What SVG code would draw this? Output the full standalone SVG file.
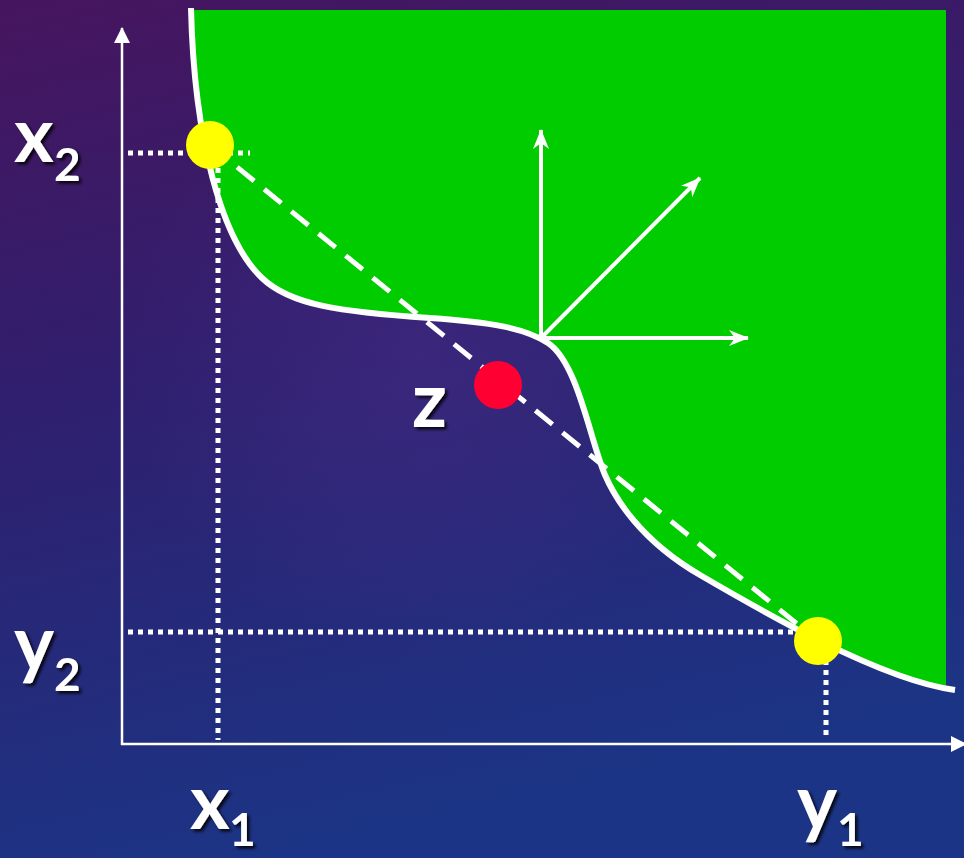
<svg xmlns="http://www.w3.org/2000/svg" width="964" height="858" viewBox="0 0 964 858">
<defs>
<linearGradient id="bg" x1="0" y1="0" x2="0.25" y2="1">
<stop offset="0" stop-color="#47155f"/>
<stop offset="0.45" stop-color="#2f1f6e"/>
<stop offset="1" stop-color="#1c3485"/>
</linearGradient>
<radialGradient id="glow" cx="420" cy="360" r="300" gradientUnits="userSpaceOnUse">
<stop offset="0" stop-color="#4a2e8a" stop-opacity="0.45"/>
<stop offset="1" stop-color="#4a2e8a" stop-opacity="0"/>
</radialGradient>
<clipPath id="gclip"><rect x="0" y="10" width="946" height="848"/></clipPath>
<marker id="stealth" viewBox="0 0 20 16" refX="19" refY="8" markerWidth="20" markerHeight="16" markerUnits="userSpaceOnUse" orient="auto">
<path d="M0,0 L20,8 L0,16 L6,8 Z" fill="#fff"/>
</marker>
<marker id="tri" viewBox="0 0 16 16" refX="15" refY="8" markerWidth="16" markerHeight="16" markerUnits="userSpaceOnUse" orient="auto">
<path d="M0,0 L16,8 L0,16 Z" fill="#fff"/>
</marker>
<filter id="shadow" x="-20%" y="-20%" width="150%" height="150%">
<feDropShadow dx="2.5" dy="2.5" stdDeviation="1.5" flood-color="#000" flood-opacity="0.85"/>
</filter>
<style>
.lbl{font-family:Lato,"Open Sans","Liberation Sans",sans-serif;font-weight:700;fill:#fff;filter:url(#shadow)}
.main{font-size:76px}
.sub{font-size:46px}
.axis{stroke:#fff;stroke-width:2.5;fill:none}
.dot{stroke:#fff;stroke-width:5;stroke-dasharray:5 5;fill:none}
.vec{stroke:#fff;stroke-width:4;fill:none;marker-end:url(#stealth)}
</style>
</defs>
<rect width="964" height="858" fill="url(#bg)"/>
<rect width="964" height="858" fill="url(#glow)"/>
<g id="region">
<path clip-path="url(#gclip)" d="M191,8 C194,140 222,240 262,278 C290,305 340,312 430,318 C490,322 525,328 548,343 C578,363 590,440 605,475 C615,498 640,540 700,575 C760,610 880,680 955,690 L960,690 L960,8 Z" fill="#00cc00"/>
</g>
<g id="connectors">
<line class="axis" x1="122" y1="745" x2="122" y2="28" marker-end="url(#tri)"/>
<line class="axis" x1="121" y1="744" x2="966" y2="744" marker-end="url(#tri)"/>
<line class="dot" x1="128" y1="153" x2="250" y2="153"/>
<line class="dot" x1="218" y1="168" x2="218" y2="740"/>
<line class="dot" x1="128" y1="632" x2="800" y2="632"/>
<line class="dot" x1="826" y1="660" x2="826" y2="738"/>
<line x1="210" y1="145" x2="818" y2="641" stroke="#fff" stroke-width="5" stroke-dasharray="22 13"/>
<path id="boundary" d="M191,8 C194,140 222,240 262,278 C290,305 340,312 430,318 C490,322 525,328 548,343 C578,363 590,440 605,475 C615,498 640,540 700,575 C760,610 880,680 955,690" fill="none" stroke="#fff" stroke-width="6"/>
<line class="vec" x1="541" y1="338" x2="541" y2="130"/>
<line class="vec" x1="541" y1="338" x2="700" y2="178"/>
<line class="vec" x1="541" y1="338" x2="748" y2="338"/>
</g>
<g id="point-x"><circle cx="210" cy="145" r="24" fill="#ffff00"/></g>
<g id="point-y"><circle cx="818" cy="641" r="24" fill="#ffff00"/></g>
<g id="point-z"><circle cx="498" cy="385" r="24" fill="#ff0033"/></g>
<g id="labels">
<text class="lbl"><tspan class="main" x="14" y="162">x</tspan><tspan class="sub" x="54" y="181">2</tspan></text>
<text class="lbl"><tspan class="main" x="14" y="670">y</tspan><tspan class="sub" x="54" y="691">2</tspan></text>
<text class="lbl main" x="412" y="427">z</text>
<text class="lbl"><tspan class="main" x="190" y="829">x</tspan><tspan class="sub" x="229" y="846">1</tspan></text>
<text class="lbl"><tspan class="main" x="797" y="829">y</tspan><tspan class="sub" x="837" y="846">1</tspan></text>
</g>
</svg>
